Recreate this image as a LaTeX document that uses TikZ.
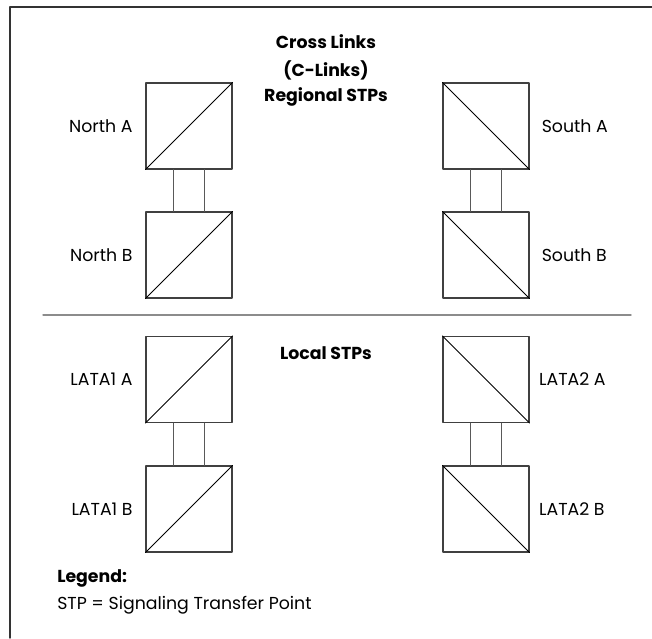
\documentclass[tikz,border=0pt]{standalone}
\usepackage{fontspec}
\setmainfont{Poppins}
\usetikzlibrary{calc}

\begin{document}
\begin{tikzpicture}[x=0.75pt, y=-0.75pt, font=\fontsize{13}{15}\selectfont, line cap=round, line join=round,
  stp/.style={draw=black!75, line width=0.8pt, minimum size=64.5pt, inner sep=0pt},
  lbl/.style={inner sep=0pt},
  link/.style={draw=black!65, line width=0.8pt}]

\useasboundingbox (0,0) rectangle (652,638);

% Khung
\draw[black!80, line width=1pt] (652,7) -- (10,7) -- (10,638);

% Tiêu đề
\node[lbl, font=\fontsize{13}{15}\selectfont\bfseries] (t1) at (326,42) {Cross Links};
\node[lbl, font=\fontsize{13}{15}\selectfont\bfseries] (t2) at (326,70) {(C-Links)};
\node[lbl, font=\fontsize{13}{15}\selectfont\bfseries] (t3) at (326,97) {Regional STPs};
\node[lbl, font=\fontsize{13}{15}\selectfont\bfseries] (t4) at (326,353) {Local STPs};

% Các STP vùng
\node[stp] (NA) at (189,126) {};
\node[stp] (NB) at (189,255) {};
\node[stp] (SA) at (486,126) {};
\node[stp] (SB) at (486,255) {};

% Các STP nội hạt
\node[stp] (LA) at (189,379.5) {};
\node[stp] (LB) at (189,509) {};
\node[stp] (RA) at (486,379.5) {};
\node[stp] (RB) at (486,509) {};

% Đường chéo
\foreach \n in {NA,NB,LA,LB}
  \draw[line width=0.6pt] (\n.south west) -- (\n.north east);
\foreach \n in {SA,SB,RA,RB}
  \draw[line width=0.6pt] (\n.north west) -- (\n.south east);

% Liên kết C
\foreach \a/\b in {NA/NB,SA/SB,LA/LB,RA/RB}{
  \draw[link] ([xshift=-11.6pt]\a.south) -- ([xshift=-11.6pt]\b.north);
  \draw[link] ([xshift=11.6pt]\a.south) -- ([xshift=11.6pt]\b.north);
}

% Nhãn
\node[lbl, anchor=east] (lNA) at ([xshift=-9.5pt]NA.west) {North A};
\node[lbl, anchor=east] (lNB) at ([xshift=-9.5pt]NB.west) {North B};
\node[lbl, anchor=west] (lSA) at ([xshift=9pt]SA.east) {South A};
\node[lbl, anchor=west] (lSB) at ([xshift=9pt]SB.east) {South B};
\node[lbl, anchor=east] (lLA) at ([xshift=-9.5pt]LA.west) {LATA1 A};
\node[lbl, anchor=east] (lLB) at ([xshift=-9.5pt]LB.west) {LATA1 B};
\node[lbl, anchor=west] (lRA) at ([xshift=7pt]RA.east) {LATA2 A};
\node[lbl, anchor=west] (lRB) at ([xshift=7pt]RB.east) {LATA2 B};

% Đường phân cách
\draw[black!45, line width=1pt] (43,315) -- (631,315);

% Chú thích
\node[lbl, anchor=west, font=\fontsize{13}{15}\selectfont\bfseries] (leg) at (57,578) {Legend:};
\node[lbl, anchor=west] (stp) at (57,605) {STP = Signaling Transfer Point};

\end{tikzpicture}
\end{document}
